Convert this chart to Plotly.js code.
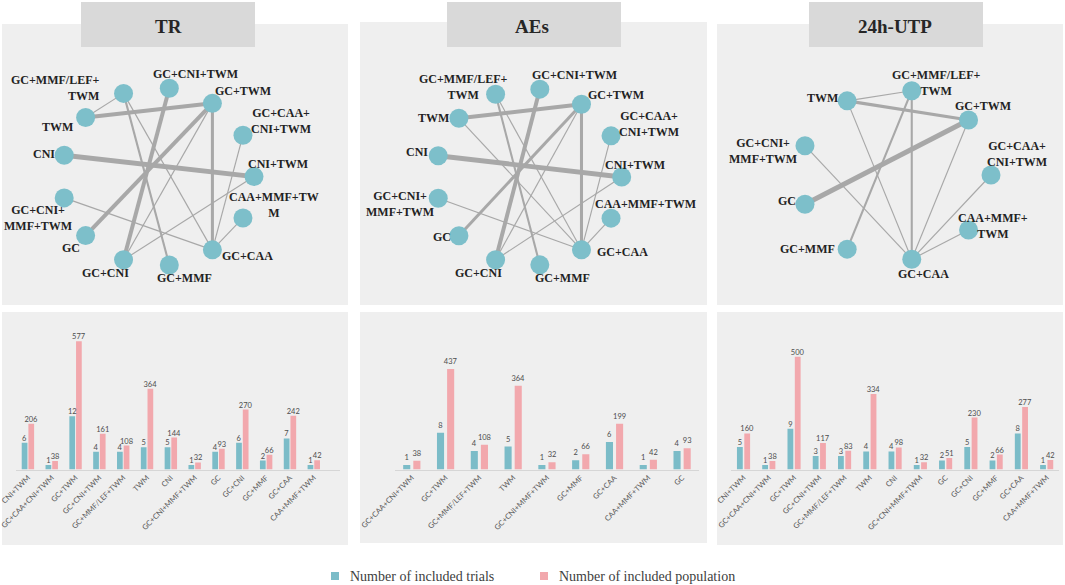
<!DOCTYPE html>
<html><head><meta charset="utf-8">
<script src="https://cdn.plot.ly/plotly-3.0.1.min.js"></script>
<style>html,body{margin:0;padding:0;background:#fff}#chart{width:1065px;height:585px}</style>
</head><body><div id="chart"></div>
<script>
// ---------- DATA ----------
const trCats = ['CNI+TWM','GC+CAA+CNI+TWM','GC+TWM','GC+CNI+TWM','GC+MMF/LEF+TWM','TWM','CNI','GC+CNI+MMF+TWM','GC','GC+CNI','GC+MMF','GC+CAA','CAA+MMF+TWM'];
const trTrials = [6,1,12,4,4,5,5,1,4,6,2,7,1];
const trPop = [206,38,577,161,108,364,144,32,93,270,66,242,42];

const aeCats = ['GC+CAA+CNI+TWM','GC+TWM','GC+MMF/LEF+TWM','TWM','GC+CNI+MMF+TWM','GC+MMF','GC+CAA','CAA+MMF+TWM','GC'];
const aeTrials = [1,8,4,5,1,2,6,1,4];
const aePop = [38,437,108,364,32,66,199,42,93];

const utpCats = ['CNI+TWM','GC+CAA+CNI+TWM','GC+TWM','GC+CNI+TWM','GC+MMF/LEF+TWM','TWM','CNI','GC+CNI+MMF+TWM','GC','GC+CNI','GC+MMF','GC+CAA','CAA+MMF+TWM'];
const utpTrials = [5,1,9,3,3,4,4,1,2,5,2,8,1];
const utpPop = [160,38,500,117,83,334,98,32,51,230,66,277,42];

// network nodes (circular order) and their printed labels
const trNodes = ['CNI+TWM','GC+CAA+CNI+TWM','GC+TWM','GC+CNI+TWM','GC+MMF/LEF+TWM','TWM','CNI','GC+CNI+MMF+TWM','GC','GC+CNI','GC+MMF','GC+CAA','CAA+MMF+TWM'];
const trLabels = ['CNI+TWM','GC+CAA+<br>CNI+TWM','GC+TWM','GC+CNI+TWM','GC+MMF/LEF+<br>TWM','TWM','CNI','GC+CNI+<br>MMF+TWM','GC','GC+CNI','GC+MMF','GC+CAA','CAA+MMF+TW<br>M'];
const trEdgeA = ['CNI','CNI+TWM','GC+CAA+CNI+TWM','TWM','GC+TWM','GC+TWM','GC+TWM','GC+CNI+TWM','GC+MMF/LEF+TWM','GC+MMF/LEF+TWM','GC+MMF/LEF+TWM','GC+CNI+MMF+TWM','CAA+MMF+TWM'];
const trEdgeB = ['CNI+TWM','GC+CNI','GC+CAA','GC+TWM','GC','GC+CAA','GC+CNI','GC+CNI','TWM','GC+MMF','GC+CAA','GC+CAA','GC+CAA'];
const trEdgeN = [5,1,1,4,4,3,1,4,1,2,1,1,1];

const aeNodes = ['CNI+TWM','GC+CAA+CNI+TWM','GC+TWM','GC+CNI+TWM','GC+MMF/LEF+TWM','TWM','CNI','GC+CNI+MMF+TWM','GC','GC+CNI','GC+MMF','GC+CAA','CAA+MMF+TWM'];
const aeLabels = ['CNI+TWM','GC+CAA+<br>CNI+TWM','GC+TWM','GC+CNI+TWM','GC+MMF/LEF+<br>TWM','TWM','CNI','GC+CNI+<br>MMF+TWM','GC','GC+CNI','GC+MMF','GC+CAA','CAA+MMF+TWM'];
const aeEdgeA = ['CNI','CNI+TWM','GC+CAA+CNI+TWM','TWM','GC+TWM','GC+TWM','GC+TWM','GC+CNI+TWM','TWM','GC+MMF/LEF+TWM','GC+MMF/LEF+TWM','GC+CNI+MMF+TWM','CAA+MMF+TWM'];
const aeEdgeB = ['CNI+TWM','GC+CNI','GC+CAA','GC+TWM','GC','GC+CAA','GC+CNI','GC+CNI','GC+CAA','GC+MMF','GC+CAA','GC+CAA','GC+CAA'];
const aeEdgeN = [5,1,1,4,3,3,1,4,1,2,1,1,1];

const utpNodes = ['GC+CAA+CNI+TWM','GC+TWM','GC+MMF/LEF+TWM','TWM','GC+CNI+MMF+TWM','GC','GC+MMF','GC+CAA','CAA+MMF+TWM'];
const utpLabels = ['GC+CAA+<br>CNI+TWM','GC+TWM','GC+MMF/LEF+<br>TWM','TWM','GC+CNI+<br>MMF+TWM','GC','GC+MMF','GC+CAA','CAA+MMF+<br>TWM'];
const utpEdgeA = ['TWM','TWM','GC+TWM','GC+MMF/LEF+TWM','GC+MMF/LEF+TWM','TWM','GC+TWM','GC+CNI+MMF+TWM','GC+CAA+CNI+TWM','CAA+MMF+TWM'];
const utpEdgeB = ['GC+MMF/LEF+TWM','GC+TWM','GC','GC+MMF','GC+CAA','GC+CAA','GC+CAA','GC+CAA','GC+CAA','GC+CAA'];
const utpEdgeN = [1,3,5,2,2,1,1,1,1,1];

const panelTitles = ['TR','AEs','24h-UTP'];
const legendNames = ['Number of included trials','Number of included population'];

// ---------- STYLE / LAYOUT ----------
const W = 1065, H = 585;
const px = x => x / W, py = y => 1 - y / H;
const TEAL = '#7bbcc8', PINK = '#f2a8ad', EDGE = '#a8a8a8', NODE = '#7dbfca';
const PANEL_BG = '#efefef', TITLE_BG = '#d9d9d9';
const traces = [], annotations = [], shapes = [];
const layout = {
  width: W, height: H, margin: {l:0, r:0, t:0, b:0},
  paper_bgcolor: '#ffffff', plot_bgcolor: 'rgba(0,0,0,0)',
  showlegend: false, hovermode: false,
  annotations, shapes
};

// label offsets [dx, dy(up), anchor]
const trOffs = [[24,13],[38,14],[31,12],[26,14],[-23,5,'right'],[-28,-9],[-20,1],[-26,-20],[-15,-12],[-18,-13],[15,-13],[35,-6],[31,13]];
const aeOffs = [[13,12],[38,11.5],[35,9],[35,14],[-33,7.5],[-25,0],[-21,4],[-38,-6],[-17,-1],[-17,-13],[23,-13],[41,-2],[34,14]];
const utpOffs = [[26,21],[14,14],[24,7.5],[-25,3],[-42,-5],[-17.5,3],[-40,0],[11.6,-14.7],[24,4]];

function axId(i){ return i === 1 ? '' : String(i); }

function network(idx, nodes, labels, eA, eB, eN, g, offs){
  const n = nodes.length, pos = {};
  nodes.forEach((nm,k) => { const a = 2*Math.PI*k/n; pos[nm] = [Math.cos(a), Math.sin(a)]; });
  const xa = 'x'+axId(idx), ya = 'y'+axId(idx);
  eA.forEach((a,i) => {
    traces.push({type:'scatter', mode:'lines', x:[pos[a][0], pos[eB[i]][0]], y:[pos[a][1], pos[eB[i]][1]],
      xaxis:xa, yaxis:ya, line:{color:EDGE, width:0.95*eN[i]+0.2}, hoverinfo:'skip', showlegend:false});
  });
  traces.push({type:'scatter', mode:'markers', x:nodes.map(m=>pos[m][0]), y:nodes.map(m=>pos[m][1]),
    xaxis:xa, yaxis:ya, marker:{size:19, color:NODE, line:{width:0}}, text:nodes, hoverinfo:'text', showlegend:false});
  nodes.forEach((m,k) => {
    const o = offs[k];
    annotations.push({xref:xa, yref:ya, x:pos[m][0], y:pos[m][1], xshift:o[0], yshift:o[1],
      xanchor:o[2]||'center', yanchor:'middle', align:o[2]||'center', showarrow:false, text:labels[k],
      font:{family:'Liberation Serif, Times New Roman, serif', size:12, weight:'bold', color:'#222222'}});
  });
  layout['xaxis'+axId(idx)] = {domain:[px(g.box[0]), px(g.box[1])], range:[(g.box[0]-g.cx)/g.rx, (g.box[1]-g.cx)/g.rx], visible:false, anchor:ya};
  layout['yaxis'+axId(idx)] = {domain:[py(g.box[3]), py(g.box[2])], range:[(g.cy-g.box[3])/g.ry, (g.cy-g.box[2])/g.ry], visible:false, anchor:xa};
  shapes.push({type:'rect', xref:'paper', yref:'paper', x0:px(g.box[0]), x1:px(g.box[1]), y0:py(g.box[3]), y1:py(g.box[2]), fillcolor:PANEL_BG, line:{width:0}, layer:'below'});
}

const valFont = {family:'Lato, Carlito, sans-serif', size:7.5, color:'#4d4d4d'};
function bars(xi, yp, yt, cats, trials, pop, g){
  traces.push({type:'bar', x:cats, y:trials, xaxis:'x'+xi, yaxis:'y'+yt, width:g.w, offset:-g.w-g.gap/2,
    marker:{color:TEAL, line:{width:0}}, text:trials.map(String), textposition:'outside', cliponaxis:false,
    constraintext:'none', textfont:valFont, showlegend:false, name:legendNames[0]});
  traces.push({type:'bar', x:cats, y:pop, xaxis:'x'+xi, yaxis:'y'+yp, width:g.w, offset:g.gap/2,
    marker:{color:PINK, line:{width:0}}, text:pop.map(String), textposition:'outside', cliponaxis:false,
    constraintext:'none', textfont:valFont, showlegend:false, name:legendNames[1]});
  layout['xaxis'+xi] = {domain:[px(g.x0), px(g.x1)], range:[-0.5, g.rmax], type:'category',
    categoryorder:'array', categoryarray:cats, anchor:'y'+yp, tickangle:-45,
    tickfont:{family:'Lato, Carlito, sans-serif', size:7.5, color:'#595959'},
    showline:true, linecolor:'#d6d6d6', linewidth:1, ticks:'', showgrid:false, zeroline:false, automargin:false};
  layout['yaxis'+yp] = {domain:[py(g.base), py(g.top)], range:[0, g.popMax], visible:false, anchor:'x'+xi};
  layout['yaxis'+yt] = {overlaying:'y'+yp, range:[0, g.popMax/20], visible:false, anchor:'x'+xi};
  shapes.push({type:'rect', xref:'paper', yref:'paper', x0:px(g.bg[0]), x1:px(g.bg[1]), y0:py(g.bg[3]), y1:py(g.bg[2]), fillcolor:PANEL_BG, line:{width:0}, layer:'below'});
}

network(1, trNodes, trLabels, trEdgeA, trEdgeB, trEdgeN, {box:[2,348,24,305], cx:157.7, cy:176.6, rx:96.3, ry:89}, trOffs);
network(2, aeNodes, aeLabels, aeEdgeA, aeEdgeB, aeEdgeN, {box:[360,707,22,305], cx:528.6, cy:177, rx:93.1, ry:88.5}, aeOffs);
network(3, utpNodes, utpLabels, utpEdgeA, utpEdgeB, utpEdgeN, {box:[717,1063,24,305], cx:895.1, cy:175, rx:95.9, ry:85.6}, utpOffs);

bars(4, 4, 5, trCats, trTrials, trPop, {x0:16, x1:340, rmax:13.1, base:469.5, top:330, popMax:628, w:0.24, gap:0.04, bg:[2,348,312,545]});
bars(5, 6, 7, aeCats, aeTrials, aePop, {x0:394.9, x1:699, rmax:8.5, base:469.5, top:330, popMax:607, w:0.21, gap:0.09, bg:[360,707,312,543]});
bars(6, 8, 9, utpCats, utpTrials, utpPop, {x0:730.9, x1:1059.3, rmax:12.5, base:469.5, top:330, popMax:618, w:0.23, gap:0.06, bg:[717,1063,312,545]});

// title boxes
const titleBoxes = [[81,255],[447,621],[809,983]];
const titleCx = [168,532,895];
panelTitles.forEach((t,i) => {
  shapes.push({type:'rect', xref:'paper', yref:'paper', x0:px(titleBoxes[i][0]), x1:px(titleBoxes[i][1]), y0:py(47), y1:py(2), fillcolor:TITLE_BG, line:{width:0}, layer:'above'});
  annotations.push({xref:'paper', yref:'paper', x:px(titleCx[i]), y:py(26.5), xanchor:'center', yanchor:'middle', showarrow:false, text:t,
    font:{family:'Liberation Serif, Times New Roman, serif', size:19, weight:'bold', color:'#262626'}});
});

// legend
const legSq = [[331,339],[540,548]];
const legCol = [TEAL, PINK];
legendNames.forEach((nm,i) => {
  shapes.push({type:'rect', xref:'paper', yref:'paper', x0:px(legSq[i][0]), x1:px(legSq[i][1]), y0:py(580), y1:py(572), fillcolor:legCol[i], line:{width:0}});
  annotations.push({xref:'paper', yref:'paper', x:px(legSq[i][1]+9), y:py(576), xanchor:'left', yanchor:'middle', showarrow:false, text:nm,
    font:{family:'Liberation Serif, Times New Roman, serif', size:14, color:'#404040'}});
});

Plotly.newPlot('chart', traces, layout, {staticPlot:true, displayModeBar:false});
</script></body></html>
